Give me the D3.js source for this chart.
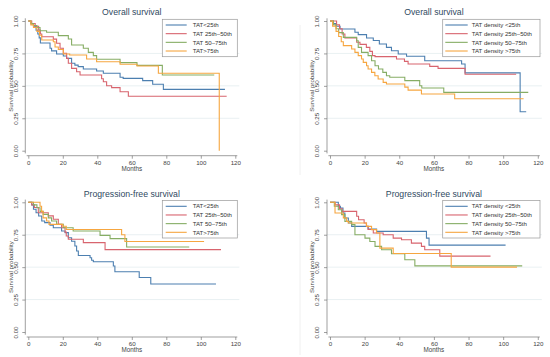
<!DOCTYPE html>
<html>
<head>
<meta charset="utf-8">
<script src="https://cdn.jsdelivr.net/npm/d3@7"></script>
<style>
  body { margin: 0; background: #fff; }
  svg text { font-family: "Liberation Sans", Arial, sans-serif; }
</style>
</head>
<body>
<svg width="550" height="357"></svg>
<script>
// [months, survival probability] steps
const osTatLt25 = [[0,1],[1.5,0.98],[3,0.96],[4.5,0.93],[5.5,0.90],[6.3,0.87],[7,0.83],[12.6,0.79],[13.5,0.77],[16.4,0.746],[20.3,0.73],[22.2,0.712],[25.1,0.674],[27,0.66],[28.9,0.648],[31.9,0.63],[39.6,0.615],[43.5,0.597],[53.2,0.566],[55,0.558],[66.3,0.54],[72.1,0.512],[78.3,0.473],[114,0.473]];
const osTat25_50 = [[0,1],[2,0.98],[4,0.96],[6,0.93],[7,0.90],[7.8,0.879],[14.5,0.86],[16.4,0.828],[18.4,0.79],[20.3,0.751],[22.2,0.712],[23.2,0.674],[25.1,0.635],[28,0.609],[30,0.584],[42.5,0.555],[43.5,0.532],[45.4,0.501],[48.3,0.486],[53.2,0.455],[58,0.42],[115,0.42]];
const osTat50_75 = [[0,1],[1.5,0.98],[3,0.965],[5,0.95],[6.8,0.925],[10.6,0.913],[17.4,0.887],[23.2,0.861],[25.1,0.815],[31.9,0.79],[34.8,0.758],[37.7,0.733],[39.6,0.705],[53.2,0.679],[63,0.658],[77.7,0.584],[107.8,0.584]];
const osTatGt75 = [[0,1],[1.5,0.97],[3,0.95],[5,0.92],[6.5,0.89],[7.8,0.853],[14.5,0.84],[15.5,0.80],[17.4,0.78],[20.3,0.746],[24,0.738],[33.8,0.707],[39.6,0.686],[53.2,0.666],[63,0.653],[75.4,0.597],[110.7,0.597],[110.7,0]];

const osDenLt25 = [[0,1],[2,0.98],[3.5,0.96],[5.8,0.938],[14.4,0.913],[16.3,0.895],[21.1,0.869],[25,0.85],[28.5,0.823],[32.6,0.797],[35.5,0.771],[39.4,0.745],[44.2,0.728],[54.7,0.694],[76,0.668],[78,0.60],[109.8,0.30],[113.3,0.30]];
const osDen25_50 = [[0,1],[3.8,0.97],[5.5,0.94],[7,0.90],[8.6,0.869],[15.4,0.836],[17.3,0.82],[21,0.797],[23,0.766],[24.5,0.733],[26,0.725],[38.4,0.707],[43,0.689],[45.1,0.668],[57.6,0.65],[62.4,0.635],[78,0.59],[107.5,0.59]];
const osDen50_75 = [[0,1],[2,0.97],[3.5,0.94],[5,0.91],[7.7,0.874],[15.4,0.848],[16.3,0.797],[18.2,0.758],[22,0.733],[24,0.694],[26,0.655],[28,0.63],[30.5,0.604],[32.6,0.578],[34.5,0.566],[43.2,0.54],[51.8,0.501],[53,0.483],[65.7,0.45],[114.5,0.45]];
const osDenGt75 = [[0,1],[1.5,0.96],[3.5,0.92],[5,0.88],[6.5,0.84],[7.7,0.81],[12.5,0.784],[14.4,0.758],[16.3,0.733],[18.2,0.707],[19.2,0.681],[21.1,0.655],[22,0.63],[24,0.604],[25.9,0.578],[27.8,0.553],[30.7,0.527],[32.6,0.514],[43.2,0.49],[45.1,0.467],[52.8,0.437],[72,0.40],[111.8,0.40]];

const pfsTatLt25 = [[0,1],[2,0.98],[3,0.946],[4.5,0.92],[6,0.894],[7.8,0.856],[9.5,0.843],[12.6,0.823],[14.5,0.804],[19.3,0.779],[21.3,0.766],[23.2,0.727],[25.1,0.70],[27,0.663],[28,0.624],[29,0.59],[35.8,0.573],[36.7,0.553],[37.7,0.542],[49.3,0.509],[50.2,0.465],[64.3,0.42],[71,0.37],[108.8,0.37]];
const pfsTat25_50 = [[0,1],[2,0.98],[3.5,0.96],[5.8,0.92],[11.6,0.895],[14.5,0.869],[17.4,0.83],[19.3,0.804],[21.3,0.77],[22,0.74],[23.2,0.715],[31.9,0.689],[44.5,0.635],[111.7,0.635]];
const pfsTat50_75 = [[0,1],[3,0.98],[5,0.958],[6.8,0.93],[8.6,0.907],[11.6,0.88],[13.5,0.856],[16.4,0.83],[20.3,0.804],[26,0.779],[41.6,0.745],[47.4,0.72],[57,0.655],[93.3,0.655]];
const pfsTatGt75 = [[0,1],[6.8,0.97],[7.7,0.93],[8.6,0.88],[10.6,0.856],[12,0.83],[20,0.815],[22,0.79],[54.1,0.75],[56,0.698],[101.9,0.698]];

const pfsDenLt25 = [[0,1],[4.8,0.97],[6,0.956],[7.5,0.917],[8.6,0.879],[10.6,0.84],[12.5,0.814],[22,0.794],[26.9,0.776],[55.7,0.724],[57.2,0.67],[101.4,0.67]];
const pfsDen25_50 = [[0,1],[3,0.98],[5.5,0.95],[7,0.93],[15.4,0.892],[16.5,0.866],[19.7,0.84],[21,0.814],[22,0.79],[25,0.763],[30.7,0.75],[36.5,0.724],[41.3,0.711],[47,0.685],[52.8,0.66],[54.7,0.634],[63.4,0.585],[92.7,0.585]];
const pfsDen50_75 = [[0,1],[2.5,0.97],[4.8,0.943],[6.7,0.905],[8.6,0.853],[12.5,0.828],[14.4,0.75],[20.2,0.724],[23,0.698],[26,0.66],[29.8,0.634],[35.5,0.603],[43.2,0.557],[49,0.51],[111,0.51]];
const pfsDenGt75 = [[0,1],[2.9,0.917],[7.7,0.88],[9.6,0.853],[10.6,0.84],[21.1,0.814],[24,0.789],[26.9,0.763],[28.8,0.647],[36.5,0.605],[70,0.50],[108,0.50]];

const tatLabels = ['TAT<25th', 'TAT 25th\u201350th', 'TAT 50\u201375th', 'TAT>75th'];
const densityLabels = ['TAT density <25th', 'TAT density 25th\u201350th', 'TAT density 50\u201375th', 'TAT density >75th'];
const xTicks = [0, 20, 40, 60, 80, 100, 120];
const yTicks = [0, 0.25, 0.5, 0.75, 1];
const colors = ['#4c7fb0', '#d8646e', '#86ad64', '#f6a640'];

const panels = [
  { x0: 0,     y0: 0,     w: 207,   title: 'Overall survival',          labels: tatLabels,     legendX: 162.3, legendW: 75,   lineX: [3.4, 24.4], textX: 30.4, series: [osTatLt25, osTat25_50, osTat50_75, osTatGt75] },
  { x0: 301.7, y0: 0,     w: 207.8, title: 'Overall survival',          labels: densityLabels, legendX: 442.7, legendW: 97.3, lineX: [2.6, 25.0], textX: 29.0, series: [osDenLt25, osDen25_50, osDen50_75, osDenGt75] },
  { x0: 0,     y0: 181.3, w: 207,   title: 'Progression-free survival', labels: tatLabels,     legendX: 162.3, legendW: 75,   lineX: [3.4, 24.4], textX: 30.4, series: [pfsTatLt25, pfsTat25_50, pfsTat50_75, pfsTatGt75] },
  { x0: 301.7, y0: 181.3, w: 207.8, title: 'Progression-free survival', labels: densityLabels, legendX: 442.7, legendW: 97.3, lineX: [2.6, 25.0], textX: 29.0, series: [pfsDenLt25, pfsDen25_50, pfsDen50_75, pfsDenGt75] }
];

const svg = d3.select('svg');

// faint frame edge of the right-hand subgraphs
svg.append('line').attr('x1', 300).attr('x2', 300).attr('y1', 25).attr('y2', 175)
  .attr('stroke', '#ececec').attr('stroke-width', 0.8);
svg.append('line').attr('x1', 300).attr('x2', 300).attr('y1', 198).attr('y2', 355)
  .attr('stroke', '#ececec').attr('stroke-width', 0.8);

panels.forEach(p => {
  const left = p.x0 + 28.3;
  const xScale = d3.scaleLinear().domain([0, 120]).range([left, left + p.w]);
  const yScale = d3.scaleLinear().domain([0, 1]).range([p.y0 + 150.7, p.y0 + 21]);
  const g = svg.append('g');

  // grid
  g.selectAll('.grid').data([0.25, 0.5, 0.75]).enter().append('line')
    .attr('x1', xScale(0) - 3).attr('x2', xScale(120) + 4)
    .attr('y1', d => yScale(d)).attr('y2', d => yScale(d))
    .attr('stroke', '#e3ecef').attr('stroke-width', 0.8);

  // y axis
  const yAxisX = xScale(0) - 3;
  const yAxisG = g.append('g').attr('transform', `translate(${yAxisX},0)`)
    .call(d3.axisLeft(yScale).tickValues(yTicks).tickFormat(d3.format('.2f')).tickSize(3).tickSizeOuter(0));
  yAxisG.select('.domain').remove();
  yAxisG.selectAll('.tick line').attr('stroke', '#777').attr('stroke-width', 0.7);
  yAxisG.selectAll('.tick text')
    .attr('x', null).attr('dy', null).attr('text-anchor', 'middle')
    .attr('transform', 'translate(-7.8,0) rotate(-90)')
    .attr('font-size', 6.2).attr('fill', '#444');
  g.append('line').attr('x1', yAxisX).attr('x2', yAxisX)
    .attr('y1', yScale(1) - 2.7).attr('y2', yScale(0) + 2.7)
    .attr('stroke', '#777').attr('stroke-width', 0.7);

  // x axis
  const xAxisY = yScale(0) + 5;
  const xAxisG = g.append('g').attr('transform', `translate(0,${xAxisY})`)
    .call(d3.axisBottom(xScale).tickValues(xTicks).tickSize(3).tickPadding(1.6).tickSizeOuter(0));
  xAxisG.select('.domain').remove();
  xAxisG.selectAll('.tick line').attr('stroke', '#777').attr('stroke-width', 0.7);
  xAxisG.selectAll('.tick text').attr('font-size', 6.2).attr('fill', '#444');
  g.append('line').attr('x1', xScale(0) - 1.6).attr('x2', xScale(120) + 2)
    .attr('y1', xAxisY).attr('y2', xAxisY)
    .attr('stroke', '#777').attr('stroke-width', 0.7);

  // axis titles
  const midX = (xScale(0) + xScale(120)) / 2;
  const midY = (yScale(0) + yScale(1)) / 2;
  g.append('text').attr('x', midX).attr('y', xAxisY + 14.8)
    .attr('text-anchor', 'middle').attr('font-size', 6.3).attr('fill', '#444').text('Months');
  g.append('text').attr('transform', `translate(${p.x0 + 12.5},${midY}) rotate(-90)`)
    .attr('text-anchor', 'middle').attr('font-size', 6.2).attr('fill', '#444').text('Survival probability');

  // title
  g.append('text').attr('x', midX).attr('y', p.y0 + 15.3)
    .attr('text-anchor', 'middle').attr('font-size', 8.7).attr('fill', '#2f4a62').text(p.title);

  // curves
  const line = d3.line().x(d => xScale(d[0])).y(d => yScale(d[1])).curve(d3.curveStepAfter);
  g.selectAll('.km').data(p.series).enter().append('path')
    .attr('d', line).attr('fill', 'none')
    .attr('stroke', (d, i) => colors[i]).attr('stroke-width', 1.1);

  // legend
  const lg = g.append('g').attr('transform', `translate(${p.legendX},${p.y0 + 19.3})`);
  lg.append('rect').attr('width', p.legendW).attr('height', 37.4)
    .attr('fill', '#fff').attr('stroke', '#999').attr('stroke-width', 0.7);
  p.labels.forEach((lab, i) => {
    const ry = 5.7 + i * 8.67;
    lg.append('line').attr('x1', p.lineX[0]).attr('x2', p.lineX[1]).attr('y1', ry).attr('y2', ry)
      .attr('stroke', colors[i]).attr('stroke-width', 1.1);
    lg.append('text').attr('x', p.textX).attr('y', ry + 2.2)
      .attr('font-size', 6.1).attr('fill', '#333').text(lab);
  });
});
</script>
</body>
</html>
